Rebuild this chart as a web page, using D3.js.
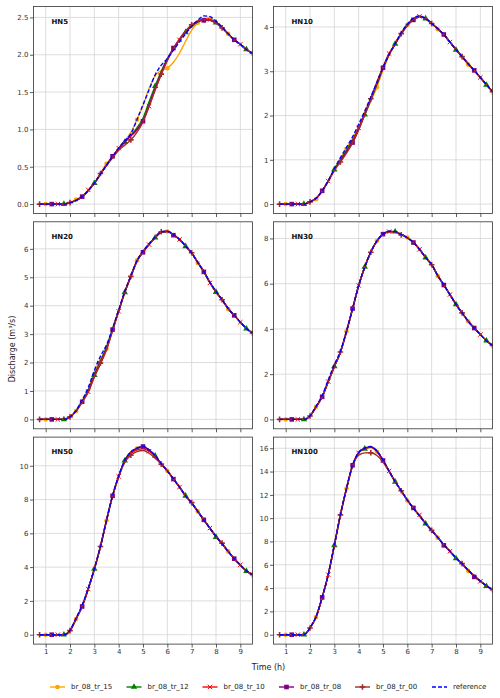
<!DOCTYPE html>
<html>
<head>
<meta charset="utf-8">
<script src="https://cdn.jsdelivr.net/npm/d3@7"></script>
<style>
  body { margin: 0; background: #fff; }
  text { font-family: 'DejaVu Sans', sans-serif; }
</style>
</head>
<body>
<script>
// time axis, 15 min steps
const hours = [0.75, 1.0, 1.25, 1.5, 1.75, 2.0, 2.25, 2.5, 2.75, 3.0, 3.25, 3.5,
  3.75, 4.0, 4.25, 4.5, 4.75, 5.0, 5.25, 5.5, 5.75, 6.0, 6.25, 6.5,
  6.75, 7.0, 7.25, 7.5, 7.75, 8.0, 8.25, 8.5, 8.75, 9.0, 9.25, 9.5]

const basins = ['HN5', 'HN10', 'HN20', 'HN30', 'HN50', 'HN100']
const xTicks = [1, 2, 3, 4, 5, 6, 7, 8, 9]
const yTicks = [
  [0, 0.5, 1, 1.5, 2, 2.5],
  [0, 1, 2, 3, 4],
  [0, 1, 2, 3, 4, 5, 6],
  [0, 2, 4, 6, 8],
  [0, 2, 4, 6, 8, 10],
  [0, 2, 4, 6, 8, 10, 12, 14, 16]
]

// one row per basin (HN5 .. HN100)
const br_08_tr_15 = [
  [0,0,0,0,0,0.02,0.06,0.10,0.18,0.28,0.40,0.54,0.64,0.75,0.85,0.96,1.13,1.32,1.55,1.72,1.79,1.82,1.90,2.02,2.18,2.33,2.43,2.48,2.49,2.44,2.37,2.28,2.20,2.14,2.07,2.02],
  [0,0,0,0,0,0.05,0.11,0.30,0.52,0.78,1.02,1.25,1.48,1.74,2.02,2.32,2.64,3.02,3.36,3.62,3.86,4.05,4.18,4.24,4.19,4.08,3.95,3.82,3.66,3.49,3.32,3.15,3.01,2.86,2.70,2.54],
  [0,0,0,0,0,0.09,0.29,0.66,1.05,1.65,2.12,2.48,3.18,3.83,4.48,5.05,5.59,5.92,6.17,6.41,6.59,6.61,6.50,6.33,6.10,5.86,5.50,5.19,4.82,4.49,4.21,3.88,3.66,3.42,3.20,3.04],
  [0,0,0,0,0,0.15,0.56,1.02,1.70,2.36,2.98,3.89,4.90,5.92,6.74,7.40,7.89,8.19,8.31,8.30,8.17,8.04,7.82,7.52,7.16,6.84,6.34,5.94,5.52,5.08,4.71,4.34,4.04,3.75,3.48,3.27],
  [0,0,0,0,0,0.25,0.93,1.70,2.72,3.88,5.20,6.76,8.22,9.38,10.30,10.80,11.02,11.10,10.92,10.58,10.12,9.70,9.22,8.74,8.22,7.80,7.30,6.80,6.30,5.82,5.38,4.93,4.50,4.12,3.78,3.55],
  [0,0,0,0,0,0.58,1.52,3.18,5.15,7.68,10.28,12.54,14.52,15.62,15.98,16.05,15.70,14.95,14.03,13.13,12.35,11.52,10.85,10.20,9.55,8.95,8.32,7.72,7.16,6.60,6.08,5.48,5.05,4.60,4.20,3.87]
]
const br_08_tr_12 = [
  [0,0,0,0,0,0.02,0.05,0.10,0.18,0.28,0.40,0.52,0.63,0.74,0.83,0.92,1.02,1.15,1.37,1.58,1.78,1.95,2.08,2.20,2.30,2.38,2.44,2.47,2.47,2.43,2.36,2.28,2.20,2.14,2.07,2.02],
  [0,0,0,0,0,0.05,0.13,0.30,0.52,0.78,1.00,1.22,1.45,1.72,2.02,2.36,2.70,3.06,3.38,3.62,3.86,4.06,4.19,4.24,4.19,4.08,3.96,3.82,3.66,3.48,3.33,3.17,3.02,2.86,2.69,2.54],
  [0,0,0,0,0,0.09,0.30,0.64,1.02,1.56,2.05,2.55,3.18,3.82,4.47,5.04,5.58,5.90,6.16,6.39,6.58,6.61,6.50,6.33,6.09,5.86,5.52,5.20,4.82,4.48,4.21,3.90,3.66,3.42,3.19,3.04],
  [0,0,0,0,0,0.15,0.56,1.00,1.66,2.34,2.97,3.88,4.89,5.91,6.74,7.40,7.89,8.19,8.31,8.30,8.17,8.03,7.82,7.52,7.15,6.84,6.36,5.94,5.52,5.08,4.71,4.34,4.04,3.75,3.48,3.27],
  [0,0,0,0,0,0.25,0.95,1.70,2.72,3.89,5.21,6.77,8.23,9.38,10.30,10.80,11.03,11.12,10.93,10.59,10.12,9.70,9.22,8.74,8.22,7.80,7.30,6.80,6.30,5.78,5.38,4.93,4.50,4.12,3.76,3.55],
  [0,0,0,0,0,0.58,1.53,3.20,5.16,7.67,10.28,12.55,14.53,15.62,15.95,16.10,15.75,14.97,14.05,13.12,12.35,11.55,10.85,10.20,9.52,8.95,8.35,7.72,7.16,6.55,6.08,5.55,5.05,4.60,4.16,3.87]
]
const br_08_tr_10 = [
  [0,0,0,0,0,0.02,0.05,0.10,0.19,0.28,0.40,0.52,0.63,0.75,0.83,0.91,0.99,1.11,1.31,1.53,1.74,1.93,2.08,2.20,2.31,2.39,2.45,2.48,2.47,2.43,2.36,2.28,2.20,2.14,2.07,2.02],
  [0,0,0,0,0,0.05,0.13,0.30,0.52,0.76,0.97,1.18,1.42,1.72,2.05,2.40,2.76,3.10,3.40,3.62,3.85,4.04,4.18,4.24,4.19,4.08,3.96,3.83,3.66,3.49,3.33,3.17,3.02,2.86,2.70,2.54],
  [0,0,0,0,0,0.09,0.29,0.62,0.97,1.50,1.95,2.45,3.12,3.80,4.46,5.02,5.56,5.89,6.15,6.40,6.58,6.62,6.50,6.33,6.10,5.86,5.52,5.20,4.80,4.48,4.21,3.90,3.66,3.42,3.20,3.04],
  [0,0,0,0,0,0.15,0.55,0.99,1.67,2.33,2.96,3.88,4.89,5.92,6.74,7.40,7.88,8.18,8.30,8.29,8.17,8.03,7.82,7.52,7.16,6.84,6.36,5.94,5.52,5.08,4.71,4.34,4.04,3.75,3.48,3.27],
  [0,0,0,0,0,0.24,0.94,1.68,2.70,3.88,5.20,6.76,8.22,9.37,10.25,10.72,10.94,11.00,10.86,10.56,10.12,9.70,9.22,8.74,8.22,7.80,7.30,6.80,6.31,5.82,5.38,4.93,4.50,4.14,3.78,3.55],
  [0,0,0,0,0,0.58,1.53,3.20,5.15,7.68,10.28,12.54,14.52,15.60,15.96,16.08,15.72,14.95,14.04,13.13,12.35,11.55,10.85,10.28,9.55,8.95,8.35,7.72,7.16,6.60,6.08,5.55,5.05,4.58,4.20,3.87]
]
const br_08_tr_08 = [
  [0,0,0,0,0,0.02,0.05,0.10,0.18,0.28,0.40,0.52,0.64,0.74,0.83,0.92,1.00,1.11,1.33,1.55,1.76,1.94,2.09,2.21,2.31,2.39,2.44,2.46,2.46,2.43,2.36,2.28,2.20,2.14,2.07,2.02],
  [0,0,0,0,0,0.05,0.13,0.30,0.52,0.77,0.98,1.18,1.39,1.68,2.02,2.36,2.72,3.08,3.38,3.61,3.84,4.03,4.16,4.23,4.19,4.08,3.96,3.83,3.66,3.49,3.33,3.17,3.02,2.86,2.70,2.54],
  [0,0,0,0,0,0.09,0.30,0.62,1.00,1.55,2.00,2.50,3.16,3.82,4.47,5.03,5.57,5.88,6.16,6.40,6.58,6.61,6.48,6.33,6.10,5.86,5.52,5.19,4.82,4.49,4.21,3.90,3.66,3.42,3.20,3.04],
  [0,0,0,0,0,0.15,0.56,1.00,1.68,2.35,2.97,3.89,4.90,5.92,6.74,7.40,7.89,8.19,8.31,8.30,8.17,8.03,7.82,7.52,7.16,6.84,6.36,5.94,5.52,5.08,4.71,4.34,4.04,3.75,3.48,3.27],
  [0,0,0,0,0,0.25,0.94,1.67,2.72,3.89,5.21,6.77,8.22,9.38,10.30,10.81,11.04,11.14,10.94,10.60,10.12,9.70,9.21,8.74,8.22,7.80,7.30,6.80,6.30,5.82,5.38,4.93,4.50,4.12,3.78,3.55],
  [0,0,0,0,0,0.58,1.53,3.20,5.16,7.68,10.28,12.55,14.54,15.63,16.00,16.12,15.76,14.95,14.05,13.13,12.35,11.55,10.88,10.20,9.55,8.95,8.35,7.67,7.16,6.60,6.08,5.55,4.96,4.60,4.20,3.87]
]
const br_08_tr_00 = [
  [0,0,0,0,0,0.02,0.05,0.10,0.18,0.28,0.41,0.52,0.62,0.72,0.79,0.86,0.96,1.10,1.31,1.53,1.74,1.92,2.08,2.21,2.32,2.40,2.45,2.47,2.46,2.42,2.36,2.28,2.20,2.14,2.07,2.02],
  [0,0,0,0,0,0.05,0.13,0.30,0.52,0.77,0.95,1.15,1.38,1.68,2.03,2.38,2.73,3.08,3.38,3.62,3.85,4.04,4.18,4.24,4.19,4.08,3.96,3.83,3.66,3.49,3.33,3.17,3.02,2.86,2.70,2.54],
  [0,0,0,0,0,0.09,0.29,0.61,0.96,1.50,1.98,2.46,3.14,3.81,4.46,5.03,5.56,5.89,6.15,6.40,6.60,6.62,6.50,6.33,6.10,5.86,5.52,5.20,4.82,4.49,4.21,3.90,3.66,3.42,3.20,3.04],
  [0,0,0,0,0,0.15,0.55,0.99,1.66,2.33,2.98,3.88,4.89,5.91,6.73,7.39,7.88,8.18,8.30,8.28,8.16,8.03,7.82,7.52,7.16,6.84,6.36,5.94,5.52,5.08,4.71,4.34,4.04,3.75,3.48,3.27],
  [0,0,0,0,0,0.24,0.93,1.67,2.70,3.87,5.22,6.75,8.20,9.34,10.20,10.62,10.84,10.90,10.74,10.45,10.10,9.70,9.22,8.74,8.22,7.82,7.30,6.80,6.30,5.82,5.42,4.93,4.50,4.12,3.78,3.55],
  [0,0,0,0,0,0.57,1.52,3.18,5.14,7.66,10.28,12.52,14.48,15.40,15.60,15.62,15.38,14.82,14.00,13.12,12.35,11.55,10.85,10.20,9.55,8.95,8.35,7.72,7.16,6.60,6.10,5.55,5.05,4.60,4.20,3.87]
]
const reference = [
  [0,0,0,0,0,0.02,0.05,0.10,0.18,0.28,0.40,0.52,0.64,0.75,0.85,0.94,1.13,1.33,1.53,1.73,1.86,1.95,2.06,2.17,2.28,2.38,2.46,2.52,2.51,2.45,2.37,2.28,2.20,2.14,2.07,2.02],
  [0,0,0,0,0,0.05,0.13,0.30,0.53,0.80,1.05,1.28,1.52,1.80,2.10,2.42,2.75,3.08,3.38,3.63,3.87,4.06,4.20,4.25,4.19,4.08,3.96,3.83,3.66,3.49,3.33,3.17,3.02,2.86,2.70,2.54],
  [0,0,0,0,0,0.09,0.32,0.68,1.12,1.72,2.22,2.62,3.20,3.85,4.50,5.05,5.58,5.92,6.18,6.42,6.60,6.62,6.50,6.33,6.10,5.86,5.52,5.20,4.82,4.50,4.21,3.90,3.66,3.42,3.20,3.04],
  [0,0,0,0,0,0.15,0.58,1.05,1.75,2.42,3.02,3.90,4.90,5.92,6.74,7.40,7.89,8.19,8.32,8.30,8.17,8.03,7.82,7.52,7.16,6.84,6.36,5.94,5.52,5.08,4.71,4.34,4.04,3.75,3.48,3.27],
  [0,0,0,0,0,0.26,0.98,1.75,2.75,3.90,5.22,6.78,8.24,9.40,10.32,10.82,11.04,11.14,10.94,10.60,10.12,9.70,9.22,8.74,8.22,7.80,7.30,6.80,6.30,5.82,5.38,4.93,4.50,4.12,3.78,3.55],
  [0,0,0,0,0,0.60,1.55,3.22,5.18,7.70,10.30,12.56,14.55,15.65,16.02,16.15,15.78,14.98,14.05,13.15,12.35,11.55,10.85,10.20,9.55,8.95,8.35,7.72,7.16,6.60,6.08,5.55,5.05,4.60,4.20,3.87]
]

const series = [
  { name: 'br_08_tr_15', values: br_08_tr_15, color: 'orange', marker: 'circle', offset: 1 },
  { name: 'br_08_tr_12', values: br_08_tr_12, color: 'green', marker: 'triangle', offset: 4 },
  { name: 'br_08_tr_10', values: br_08_tr_10, color: 'red', marker: 'x', offset: 3 },
  { name: 'br_08_tr_08', values: br_08_tr_08, color: 'purple', marker: 'square', offset: 2 },
  { name: 'br_08_tr_00', values: br_08_tr_00, color: 'brown', marker: 'plus', offset: 0 },
  { name: 'reference', values: reference, color: 'blue', marker: null, dash: '4,2' }
]

const W = 500, H = 698
const cols = [33.5, 273.5], colW = 219
const rows = [6.5, 221.8, 437.1], rowH = 207

const svg = d3.select('body').append('svg').attr('width', W).attr('height', H)

// draw a marker glyph at (0,0) inside group g
function drawMarker(g, kind, color) {
  if (kind === 'circle') {
    g.append('circle').attr('r', 2.3).attr('fill', color)
  } else if (kind === 'triangle') {
    g.append('path').attr('d', d3.symbol(d3.symbolTriangle, 18)()).attr('fill', color)
  } else if (kind === 'square') {
    g.append('rect').attr('x', -2.3).attr('y', -2.3).attr('width', 4.6).attr('height', 4.6).attr('fill', color)
  } else if (kind === 'x') {
    g.append('path').attr('d', 'M-2.2,-2.2L2.2,2.2M-2.2,2.2L2.2,-2.2').attr('stroke', color).attr('stroke-width', 1)
  } else if (kind === 'plus') {
    g.append('path').attr('d', 'M-2.8,0H2.8M0,-2.8V2.8').attr('stroke', color).attr('stroke-width', 1.6)
  }
}

basins.forEach((name, i) => {
  const x0 = cols[i % 2], y0 = rows[Math.floor(i / 2)]
  const bottomRow = i >= 4
  const g = svg.append('g').attr('transform', `translate(${x0},${y0})`)

  const ymax = d3.max(series, (s) => d3.max(s.values[i]))
  const x = d3.scaleLinear().domain([0.5, 9.5]).range([0, colW])
  const y = d3.scaleLinear().domain([-0.05 * ymax, 1.05 * ymax]).range([rowH, 0])

  // grid
  g.append('g').selectAll('line').data(xTicks).join('line')
    .attr('x1', (d) => x(d)).attr('x2', (d) => x(d)).attr('y1', 0).attr('y2', rowH)
    .attr('stroke', '#d4d4d4').attr('stroke-width', 0.8)
  g.append('g').selectAll('line').data(yTicks[i]).join('line')
    .attr('x1', 0).attr('x2', colW).attr('y1', (d) => y(d)).attr('y2', (d) => y(d))
    .attr('stroke', '#d4d4d4').attr('stroke-width', 0.8)

  // axes
  const fmt = i === 0 ? d3.format('.1f') : d3.format('d')
  const ya = g.append('g').call(d3.axisLeft(y).tickValues(yTicks[i]).tickFormat(fmt).tickSize(3.5).tickPadding(1.5))
  const xa = g.append('g').attr('transform', `translate(0,${rowH})`)
    .call(d3.axisBottom(x).tickValues(xTicks).tickSize(3.5).tickPadding(1.5).tickFormat(bottomRow ? d3.format('d') : () => ''))
  ;[ya, xa].forEach((a) => {
    a.select('.domain').remove()
    a.selectAll('.tick line').attr('stroke', '#333').attr('stroke-width', 0.8)
    a.selectAll('.tick text').attr('fill', '#333').style('font-size', '7px').style('font-family', 'DejaVu Sans')
  })

  // clip
  const cid = 'clip' + i
  g.append('clipPath').attr('id', cid).append('rect').attr('width', colW).attr('height', rowH)
  const plot = g.append('g').attr('clip-path', `url(#${cid})`)

  const line = d3.line().x((d) => x(d[0])).y((d) => y(d[1])).curve(d3.curveMonotoneX)

  series.forEach((s) => {
    const pts = hours.map((h, k) => [h, s.values[i][k]])
    plot.append('path').datum(pts)
      .attr('d', line)
      .attr('fill', 'none')
      .attr('stroke', s.color)
      .attr('stroke-width', 1.4)
      .attr('stroke-dasharray', s.dash || null)
    if (s.marker) {
      pts.filter((p, k) => k % 5 === s.offset).forEach((p) => {
        const m = plot.append('g').attr('transform', `translate(${x(p[0])},${y(p[1])})`)
        drawMarker(m, s.marker, s.color)
      })
    }
  })

  // frame
  g.append('rect').attr('width', colW).attr('height', rowH)
    .attr('fill', 'none').attr('stroke', '#333').attr('stroke-width', 0.8)

  g.append('text').attr('x', 18).attr('y', 17)
    .style('font-size', '7px').style('font-weight', 'bold').attr('fill', '#111')
    .text(name)
})

// shared labels
svg.append('text')
  .attr('transform', 'translate(12,349) rotate(-90)')
  .attr('text-anchor', 'middle').attr('dominant-baseline', 'middle')
  .style('font-size', '8px').attr('fill', '#222')
  .text('Discharge (m³/s)')

svg.append('text')
  .attr('x', 268.5).attr('y', 670)
  .attr('text-anchor', 'middle')
  .style('font-size', '8px').attr('fill', '#222')
  .text('Time (h)')

// legend
const legendX = [50, 126.5, 202.5, 279, 355, 432]
const leg = svg.append('g').attr('transform', 'translate(0,687)')
series.forEach((s, k) => {
  const it = leg.append('g').attr('transform', `translate(${legendX[k]},0)`)
  it.append('line').attr('x1', 0).attr('x2', 15).attr('y1', 0).attr('y2', 0)
    .attr('stroke', s.color).attr('stroke-width', 1.4).attr('stroke-dasharray', s.dash || null)
  if (s.marker) drawMarker(it.append('g').attr('transform', 'translate(7.5,0)'), s.marker, s.color)
  it.append('text').attr('x', 21).attr('y', 0).attr('dominant-baseline', 'middle')
    .style('font-size', '7px').attr('fill', '#222').text(s.name)
})
</script>
</body>
</html>
